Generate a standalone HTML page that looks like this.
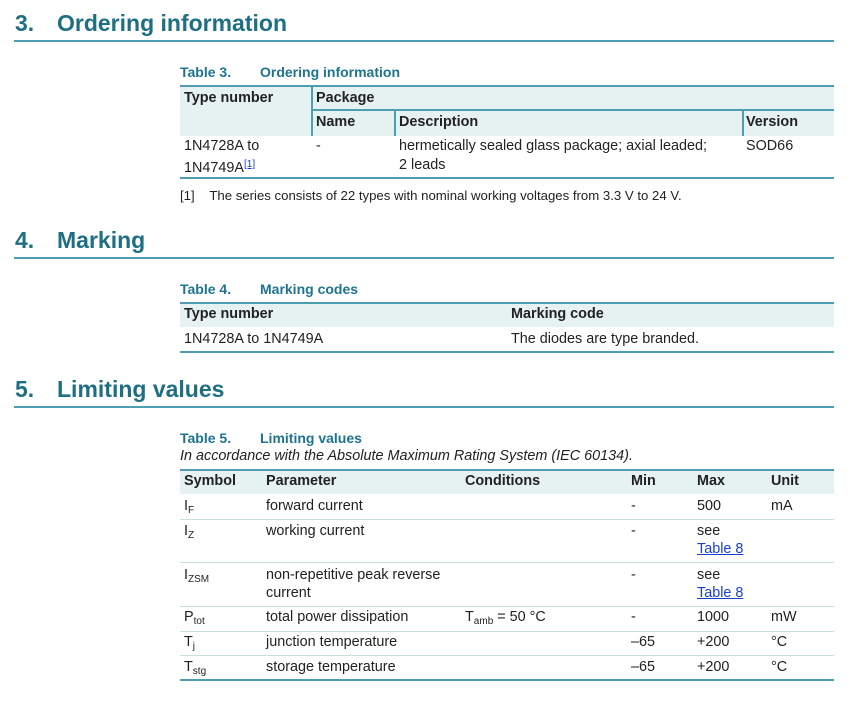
<!DOCTYPE html>
<html><head><meta charset="utf-8"><style>
body{margin:0;width:850px;height:703px;background:#fff;position:relative;font-family:"Liberation Sans",Arial,sans-serif;color:#222;overflow:hidden}
.a{position:absolute;white-space:nowrap;font-size:14.4px;line-height:16px}
.h{position:absolute;font-size:23px;font-weight:bold;color:#1e6f84;line-height:28px}
.c{position:absolute;font-size:14px;font-weight:bold;color:#1e7490;line-height:16px}
.b{font-weight:bold}
.r{position:absolute;height:2px;background:#4f9db0}
.s{position:absolute;height:1px;background:#c9dede}
.v{position:absolute;width:2px;background:#4f9db0}
.bg{position:absolute;background:#e6f2f2}
sub{font-size:10px;vertical-align:-3px;line-height:0}
a{color:#1a3fcf;text-decoration:underline}
.sup{font-size:10px;vertical-align:5px;color:#1a3fcf;text-decoration:underline}
</style></head><body>
<div class="h" style="left:15px;top:9px">3.</div>
<div class="h" style="left:57px;top:9px">Ordering information</div>
<div class="r" style="left:14px;top:40px;width:820px"></div>
<div class="c" style="left:180px;top:64px">Table 3.</div>
<div class="c" style="left:260px;top:64px">Ordering information</div>
<div class="bg" style="left:180px;top:86px;width:654px;height:50px"></div>
<div class="r" style="left:180px;top:85px;width:654px"></div>
<div class="v" style="left:311px;top:86px;height:50px"></div>
<div class="r" style="left:311px;top:109px;width:523px"></div>
<div class="v" style="left:394px;top:110px;height:26px"></div>
<div class="v" style="left:742px;top:110px;height:26px"></div>
<div class="a b" style="left:184px;top:90px">Type number</div>
<div class="a b" style="left:316px;top:90px">Package</div>
<div class="a b" style="left:316px;top:114px">Name</div>
<div class="a b" style="left:399px;top:114px">Description</div>
<div class="a b" style="left:746px;top:114px">Version</div>
<div class="a" style="left:184px;top:138px">1N4728A to</div>
<div class="a" style="left:184px;top:157px">1N4749A<span class="sup">[1]</span></div>
<div class="a" style="left:316px;top:138px">-</div>
<div class="a" style="left:399px;top:138px">hermetically sealed glass package; axial leaded;</div>
<div class="a" style="left:399px;top:157px">2 leads</div>
<div class="a" style="left:746px;top:138px">SOD66</div>
<div class="r" style="left:180px;top:177px;width:654px"></div>
<div class="a" style="left:180px;top:188px;font-size:13.2px">[1]&nbsp;&nbsp;&nbsp;&nbsp;The series consists of 22 types with nominal working voltages from 3.3 V to 24 V.</div>
<div class="h" style="left:15px;top:226px">4.</div>
<div class="h" style="left:57px;top:226px">Marking</div>
<div class="r" style="left:14px;top:257px;width:820px"></div>
<div class="c" style="left:180px;top:281px">Table 4.</div>
<div class="c" style="left:260px;top:281px">Marking codes</div>
<div class="bg" style="left:180px;top:303px;width:654px;height:24px"></div>
<div class="r" style="left:180px;top:302px;width:654px"></div>
<div class="a b" style="left:184px;top:306px">Type number</div>
<div class="a b" style="left:511px;top:306px">Marking code</div>
<div class="a" style="left:184px;top:331px">1N4728A to 1N4749A</div>
<div class="a" style="left:511px;top:331px">The diodes are type branded.</div>
<div class="r" style="left:180px;top:351px;width:654px"></div>
<div class="h" style="left:15px;top:375px">5.</div>
<div class="h" style="left:57px;top:375px">Limiting values</div>
<div class="r" style="left:14px;top:406px;width:820px"></div>
<div class="c" style="left:180px;top:430px">Table 5.</div>
<div class="c" style="left:260px;top:430px">Limiting values</div>
<div class="a" style="left:180px;top:448px;font-style:italic">In accordance with the Absolute Maximum Rating System (IEC 60134).</div>
<div class="bg" style="left:180px;top:470px;width:654px;height:24px"></div>
<div class="r" style="left:180px;top:469px;width:654px"></div>
<div class="a b" style="left:184px;top:473px">Symbol</div>
<div class="a b" style="left:266px;top:473px">Parameter</div>
<div class="a b" style="left:465px;top:473px">Conditions</div>
<div class="a b" style="left:631px;top:473px">Min</div>
<div class="a b" style="left:697px;top:473px">Max</div>
<div class="a b" style="left:771px;top:473px">Unit</div>
<div class="a" style="left:184px;top:498px">I<sub>F</sub></div>
<div class="a" style="left:266px;top:498px">forward current</div>
<div class="a" style="left:631px;top:498px">-</div>
<div class="a" style="left:697px;top:498px">500</div>
<div class="a" style="left:771px;top:498px">mA</div>
<div class="s" style="left:180px;top:519px;width:654px"></div>
<div class="a" style="left:184px;top:523px">I<sub>Z</sub></div>
<div class="a" style="left:266px;top:523px">working current</div>
<div class="a" style="left:631px;top:523px">-</div>
<div class="a" style="left:697px;top:523px">see</div>
<div class="a" style="left:697px;top:541px"><a>Table 8</a></div>
<div class="s" style="left:180px;top:562px;width:654px"></div>
<div class="a" style="left:184px;top:567px">I<sub>ZSM</sub></div>
<div class="a" style="left:266px;top:567px">non-repetitive peak reverse</div>
<div class="a" style="left:266px;top:585px">current</div>
<div class="a" style="left:631px;top:567px">-</div>
<div class="a" style="left:697px;top:567px">see</div>
<div class="a" style="left:697px;top:585px"><a>Table 8</a></div>
<div class="s" style="left:180px;top:606px;width:654px"></div>
<div class="a" style="left:184px;top:609px">P<sub>tot</sub></div>
<div class="a" style="left:266px;top:609px">total power dissipation</div>
<div class="a" style="left:465px;top:609px">T<sub>amb</sub> = 50 °C</div>
<div class="a" style="left:631px;top:609px">-</div>
<div class="a" style="left:697px;top:609px">1000</div>
<div class="a" style="left:771px;top:609px">mW</div>
<div class="s" style="left:180px;top:631px;width:654px"></div>
<div class="a" style="left:184px;top:634px">T<sub>j</sub></div>
<div class="a" style="left:266px;top:634px">junction temperature</div>
<div class="a" style="left:631px;top:634px">–65</div>
<div class="a" style="left:697px;top:634px">+200</div>
<div class="a" style="left:771px;top:634px">°C</div>
<div class="s" style="left:180px;top:655px;width:654px"></div>
<div class="a" style="left:184px;top:659px">T<sub>stg</sub></div>
<div class="a" style="left:266px;top:659px">storage temperature</div>
<div class="a" style="left:631px;top:659px">–65</div>
<div class="a" style="left:697px;top:659px">+200</div>
<div class="a" style="left:771px;top:659px">°C</div>
<div class="r" style="left:180px;top:679px;width:654px"></div>
</body></html>
